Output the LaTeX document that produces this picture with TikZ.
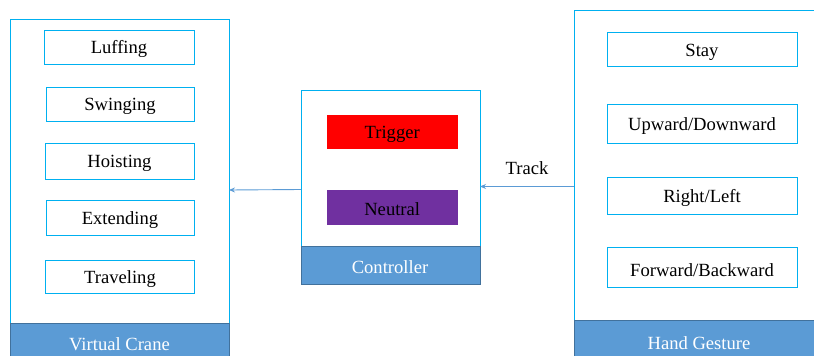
\documentclass[tikz,border=0pt]{standalone}
\usepackage{fontspec}
\setmainfont{Liberation Serif}
\usetikzlibrary{arrows.meta}
\definecolor{cyanb}{HTML}{00B0F0}
\definecolor{bandf}{HTML}{5B9BD5}
\definecolor{bandd}{HTML}{41719C}
\definecolor{purp}{HTML}{7030A0}
\tikzset{
  outer/.style={draw=cyanb, line width=1pt, fill=white},
  band/.style={draw=bandd, line width=0.8pt, fill=bandf, text=white},
  item/.style={draw=cyanb, line width=1pt, fill=white, inner sep=0pt},
  lbl/.style={inner sep=0pt, font=\fontsize{18.6}{20}\selectfont, yshift=-2pt},
  conn/.style={draw=bandf, line width=0.9pt, -{Stealth[length=6pt,width=5pt]}},
}
\begin{document}
\begin{tikzpicture}[x=1pt,y=-1pt]
\useasboundingbox (0,0) rectangle (814,356);
\clip (0,0) rectangle (814,356);
% Virtual Crane
\draw[outer] (10,19) rectangle (229,362);
\draw[band] (10,323) rectangle (229,362);
\node[lbl, text=white] (vc) at (119.5,342) {Virtual Crane};
\coordinate (vcr) at (229,190);
\draw[item] (44,30) rectangle (194,64);
\node[lbl] (luf) at (119,47) {Luffing};
\draw[item] (46,87) rectangle (194.7,121);
\node[lbl] (swi) at (120,104) {Swinging};
\draw[item] (45,143) rectangle (194,179);
\node[lbl] (hoi) at (119.5,161) {Hoisting};
\draw[item] (46,200) rectangle (194.7,235);
\node[lbl] (ext) at (120,218) {Extending};
\draw[item] (45,260) rectangle (194.7,293);
\node[lbl] (tra) at (120,277) {Traveling};
% Controller
\draw[outer] (301,90) rectangle (480,284);
\draw[band] (301,246) rectangle (480,284);
\node[lbl, text=white] (ctl) at (390,265) {Controller};
\coordinate (ctll) at (301,189.5);
\coordinate (ctlr) at (480,186.5);
\node[fill=red, minimum width=131pt, minimum height=34pt, inner sep=0pt] (trig) at (392.2,132) {};
\node[lbl] at (trig) {Trigger};
\node[fill=purp, minimum width=131pt, minimum height=35pt, inner sep=0pt] (neu) at (392.2,207.2) {};
\node[lbl] at (neu) {Neutral};
% Hand Gesture
\draw[outer] (574,10) rectangle (820,362);
\draw[band] (574,320) rectangle (820,362);
\node[lbl, text=white] (hg) at (699,341) {Hand Gesture};
\coordinate (hgl) at (574,186.5);
\draw[item] (607,32) rectangle (797,66);
\node[lbl] (stay) at (702,50) {Stay};
\draw[item] (607,104) rectangle (797,143);
\node[lbl] (upd) at (702,124) {Upward/Downward};
\draw[item] (607,177) rectangle (797,214);
\node[lbl] (rl) at (702,196) {Right/Left};
\draw[item] (607,247) rectangle (797,287);
\node[lbl] (fb) at (702,268) {Forward/Backward};
% connectors
\draw[conn] (ctll) -- (vcr);
\draw[conn] (hgl) -- (ctlr);
\node[lbl] (track) at (527,166.5) {Track};
\end{tikzpicture}
\end{document}
